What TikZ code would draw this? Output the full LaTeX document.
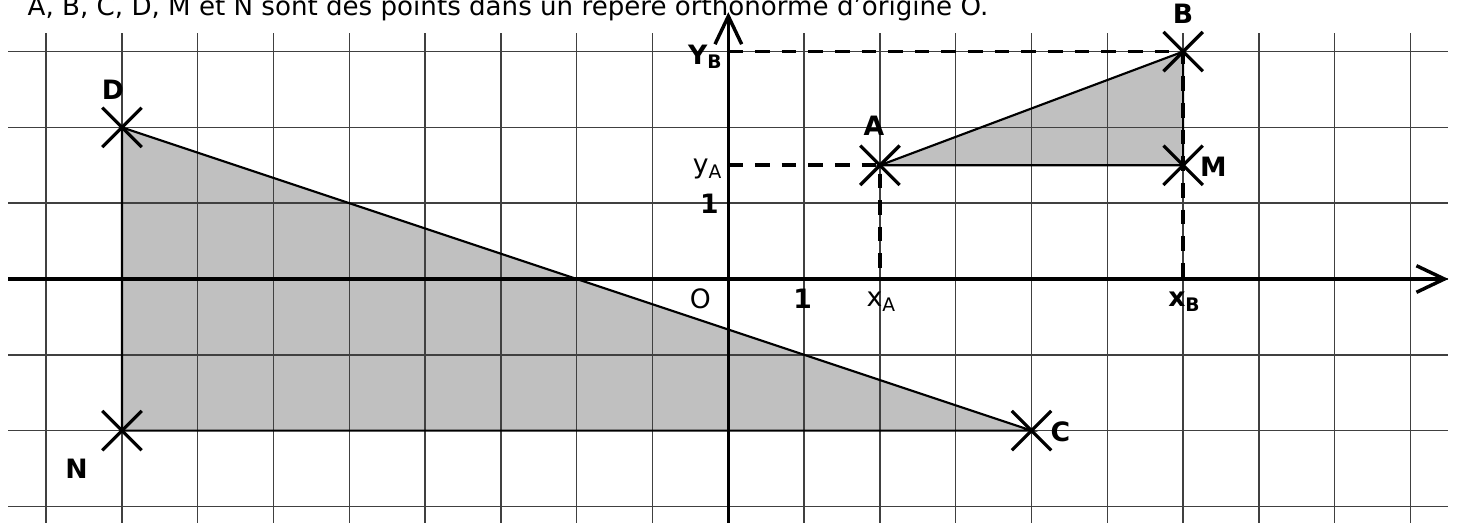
\documentclass[tikz,border=0pt]{standalone}
\usepackage{fontspec}
\setmainfont{DejaVu Sans}
\usetikzlibrary{arrows.meta, positioning}
\definecolor{trigray}{HTML}{C0C0C0}

\begin{document}
\begin{tikzpicture}[
  grille/.style={draw=black!75, line width=0.55pt},
  axe/.style={line width=1.3pt, -{Straight Barb[length=10.5pt, width=10pt, line width=1.3pt]}},
  tri/.style={fill=trigray},
  bord/.style={draw=black, line width=0.8pt},
  cote/.style={line width=1.4pt, dash pattern=on 5.5pt off 4.5pt},
  croix/.style={line width=1.2pt},
  pt/.style={font=\bfseries, inner sep=1pt},
  lab/.style={inner sep=1pt}]
  \useasboundingbox (-9.609,-3.206) rectangle (9.613,3.681);
  % points
  \coordinate (O) at (0,0);
  \coordinate (A) at (2,1.5);
  \coordinate (B) at (6,3);
  \coordinate (M) at (6,1.5);
  \coordinate (C) at (4,-2);
  \coordinate (D) at (-8,2);
  \coordinate (N) at (-8,-2);
  \coordinate (xg) at (-9.5,0);
  \coordinate (xd) at (9.5,0);
  \coordinate (yb) at (0,-3.3);
  \coordinate (yh) at (0,3.52);
  % titre
  \node[anchor=base west, inner sep=0pt, font=\fontsize{9.8}{12}\selectfont] (titre) at (-9.25,3.48)
    {A, B, C, D, M et N sont des points dans un repère orthonormé d'origine O.};
  % triangles
  \fill[tri] (D) -- (N) -- (C) -- cycle;
  \fill[tri] (A) -- (B) -- (M) -- cycle;
  % quadrillage
  \foreach \x in {-9,...,9} \draw[grille] (\x,-3.3) -- (\x,3.25);
  \foreach \y in {-3,...,3} \draw[grille] (-9.5,\y) -- (9.5,\y);
  \draw[bord] (D) -- (N) -- (C) -- cycle;
  \draw[bord] (A) -- (B) -- (M) -- cycle;
  % axes
  \draw[axe] (xg) -- (xd);
  \draw[axe] (yb) -- (yh);
  % pointilles
  \draw[cote] (O |- B) -- (B) -- (B |- O);
  \draw[cote] (O |- A) -- (A) -- (A |- O);
  % croix
  \foreach \p in {A,B,C,D,M,N}
    \draw[croix] (\p) +(-.26,-.26) -- +(.26,.26) +(-.26,.26) -- +(.26,-.26);
  % etiquettes
  \node[pt] (lD) at (-8.12,2.5) {D};
  \node[pt] (lA) at (1.92,2.02) {A};
  \node[pt] (lB) at (6,3.5) {B};
  \node[pt] (lM) at (6.4,1.48) {M};
  \node[pt] (lC) at (4.38,-2.02) {C};
  \node[pt] (lN) at (-8.6,-2.5) {N};
  \node[lab] (lO) at (-0.37,-0.26) {O};
  \node[pt] (l1x) at (0.98,-0.26) {1};
  \node[pt] (l1y) at (-0.25,0.99) {1};
  \node[lab] (lxA) at (2.02,-0.3) {x\textsubscript{A}};
  \node[pt] (lxB) at (6.02,-0.3) {x\textsubscript{B}};
  \node[lab] (lyA) at (-0.27,1.45) {y\textsubscript{A}};
  \node[pt] (lyB) at (-0.3,2.93) {Y\textsubscript{B}};
\end{tikzpicture}
\end{document}
